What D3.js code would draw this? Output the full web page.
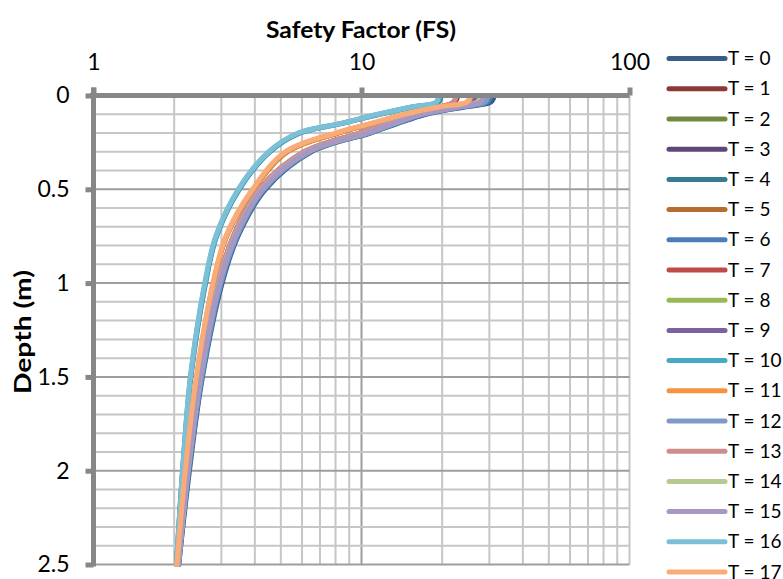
<!DOCTYPE html>
<html>
<head>
<meta charset="utf-8">
<script src="https://cdn.jsdelivr.net/npm/d3@7"></script>
<style>
  body { margin: 0; background: #fff; }
  svg { font-family: Lato, "Open Sans", sans-serif; }
</style>
</head>
<body>
<div id="chart"></div>
<script>
// profundidades (m) donde se leen los factores de seguridad
var depths = [0, 0.035, 0.06, 0.1, 0.15, 0.2, 0.3, 0.5, 0.75, 1.0, 1.5, 2.0, 2.5];

// FS por serie
var T0  = [31.3, 30.4, 24.5, 17.4, 13.6, 10.8, 6.5, 4.38, 3.46, 3.02, 2.55, 2.28, 2.08];
var T1  = [22.9, 22.3, 20.0, 15.4, 12.4, 9.9, 6.15, 4.17, 3.33, 2.92, 2.49, 2.24, 2.06];
var T2  = [27.6, 26.9, 22.5, 16.4, 12.9, 10.35, 6.28, 4.24, 3.37, 2.94, 2.5, 2.25, 2.07];
var T3  = [26.6, 25.9, 22.0, 16.2, 12.9, 10.3, 6.25, 4.24, 3.37, 2.94, 2.5, 2.25, 2.07];
var T4  = [19.8, 19.4, 15.7, 11.7, 8.4, 5.9, 4.55, 3.5, 2.88, 2.62, 2.31, 2.15, 2.04];
var T5  = [25.8, 25.2, 20.0, 14.8, 11.0, 8.2, 5.3, 3.96, 3.14, 2.8, 2.43, 2.21, 2.05];
var T6  = [30.3, 29.5, 24.0, 17.1, 13.4, 10.7, 6.45, 4.34, 3.44, 3.0, 2.54, 2.27, 2.08];
var T7  = [22.7, 22.1, 19.9, 15.3, 12.3, 9.85, 6.12, 4.16, 3.33, 2.92, 2.48, 2.24, 2.06];
var T8  = [27.3, 26.6, 22.4, 16.3, 12.9, 10.35, 6.28, 4.24, 3.37, 2.94, 2.5, 2.25, 2.07];
var T9  = [26.9, 26.2, 22.2, 16.3, 12.9, 10.35, 6.28, 4.25, 3.37, 2.94, 2.5, 2.25, 2.07];
var T10 = [19.6, 19.2, 15.6, 11.6, 8.35, 5.85, 4.52, 3.48, 2.87, 2.61, 2.3, 2.15, 2.04];
var T11 = [25.6, 25.0, 19.8, 14.6, 10.9, 8.1, 5.25, 3.94, 3.13, 2.8, 2.43, 2.2, 2.05];
var T12 = [29.7, 28.9, 23.6, 16.9, 13.3, 10.6, 6.4, 4.31, 3.42, 2.98, 2.53, 2.26, 2.07];
var T13 = [22.6, 22.0, 19.8, 15.2, 12.2, 9.8, 6.1, 4.15, 3.32, 2.91, 2.48, 2.24, 2.06];
var T14 = [27.9, 27.1, 22.6, 16.4, 12.95, 10.35, 6.28, 4.24, 3.37, 2.94, 2.5, 2.25, 2.07];
var T15 = [28.6, 27.8, 23.0, 16.5, 13.0, 10.4, 6.3, 4.26, 3.38, 2.95, 2.5, 2.25, 2.07];
var T16 = [19.4, 19.0, 15.5, 11.5, 8.3, 5.8, 4.5, 3.47, 2.86, 2.6, 2.3, 2.15, 2.04];
var T17 = [25.4, 24.8, 19.6, 14.5, 10.8, 8.0, 5.2, 3.92, 3.12, 2.79, 2.42, 2.2, 2.05];

var seriesNames = ["T = 0", "T = 1", "T = 2", "T = 3", "T = 4", "T = 5", "T = 6", "T = 7", "T = 8",
  "T = 9", "T = 10", "T = 11", "T = 12", "T = 13", "T = 14", "T = 15", "T = 16", "T = 17"];
var seriesValues = [T0, T1, T2, T3, T4, T5, T6, T7, T8, T9, T10, T11, T12, T13, T14, T15, T16, T17];
var seriesColors = ["#385D8A", "#8C3836", "#71893F", "#5C4776", "#357D91", "#B66D31",
  "#4A7EBB", "#BE4B48", "#98B954", "#7D60A0", "#46AAC5", "#F69240",
  "#7E9BC8", "#CE8D8C", "#B5CA92", "#A897C0", "#7BC0D6", "#F9AB78"];

var xTicks = [1, 10, 100];
var yTicks = [0, 0.5, 1, 1.5, 2, 2.5];

drawChart();

function drawChart() {
  var width = 783, height = 579;
  var pLeft = 93.5, pRight = 629.5, pTop = 95.5, pBottom = 564.5;

  var svg = d3.select("#chart").append("svg")
    .attr("width", width)
    .attr("height", height);

  var x = d3.scaleLog().domain([1, 100]).range([pLeft, pRight]);
  var y = d3.scaleLinear().domain([0, 2.5]).range([pTop, pBottom]);

  // rejilla
  var minorX = x.ticks().filter(d => xTicks.indexOf(d) < 0 || d == 100);
  var gridV = svg.append("g");
  gridV.selectAll("line")
    .data(minorX)
    .enter()
    .append("line")
    .attr("x1", d => x(d)).attr("x2", d => x(d))
    .attr("y1", pTop).attr("y2", pBottom)
    .attr("stroke", "#c6c6c6")
    .attr("stroke-width", 2);
  gridV.append("line")
    .attr("x1", x(10)).attr("x2", x(10))
    .attr("y1", pTop).attr("y2", pBottom)
    .attr("stroke", "#9e9e9e")
    .attr("stroke-width", 2);

  var yGrid = d3.range(1, 26).map(d => d / 10);
  svg.append("g").selectAll("line")
    .data(yGrid)
    .enter()
    .append("line")
    .attr("x1", pLeft).attr("x2", pRight)
    .attr("y1", d => y(d)).attr("y2", d => y(d))
    .attr("stroke", (d, i) => (i + 1) % 5 == 0 ? "#9e9e9e" : "#c6c6c6")
    .attr("stroke-width", 2);

  // series
  svg.append("clipPath").attr("id", "clip")
    .append("rect")
    .attr("x", pLeft).attr("y", pTop)
    .attr("width", pRight - pLeft).attr("height", pBottom - pTop + 6);

  var line = d3.line()
    .x(d => x(d[0]))
    .y(d => y(d[1]))
    .curve(d3.curveCatmullRom.alpha(0.5));

  svg.append("g")
    .attr("clip-path", "url(#clip)")
    .selectAll("path")
    .data(seriesValues)
    .enter()
    .append("path")
    .attr("d", vals => line(vals.map((v, i) => [v, depths[i]])))
    .attr("fill", "none")
    .attr("stroke", (d, i) => seriesColors[i])
    .attr("stroke-width", 5)
    .attr("stroke-linecap", "round")
    .attr("stroke-linejoin", "round");

  // ejes
  var axisColor = "#878787";
  var xAxis = d3.axisTop(x).tickValues(xTicks).tickFormat(d3.format("d")).tickSize(8).tickPadding(18);
  var gx = svg.append("g")
    .attr("transform", `translate(0,${pTop})`)
    .call(xAxis);
  gx.select(".domain").attr("stroke", axisColor).attr("stroke-width", 5)
    .attr("d", `M${pLeft - 4},0H${pRight}`);
  gx.selectAll(".tick line").attr("stroke", axisColor).attr("stroke-width", 5);
  gx.selectAll(".tick text")
    .attr("font-size", 23)
    .attr("font-family", "Lato")
    .attr("fill", "#000");

  var yAxis = d3.axisLeft(y).tickValues(yTicks).tickFormat(d => d).tickSize(8).tickPadding(16);
  var gy = svg.append("g")
    .attr("transform", `translate(${pLeft},0)`)
    .call(yAxis);
  gy.select(".domain").attr("stroke", axisColor).attr("stroke-width", 5)
    .attr("d", `M0,${pTop - 8}V${pBottom + 2}`);
  gy.selectAll(".tick line").attr("stroke", axisColor).attr("stroke-width", 5);
  gy.selectAll(".tick text")
    .attr("font-size", 23)
    .attr("font-family", "Lato")
    .attr("fill", "#000");

  // titulos
  svg.append("text")
    .attr("x", 361)
    .attr("y", 38)
    .attr("text-anchor", "middle")
    .attr("font-weight", "bold")
    .attr("font-size", 23)
    .attr("textLength", 190)
    .attr("lengthAdjust", "spacingAndGlyphs")
    .text("Safety Factor (FS)");

  svg.append("text")
    .attr("transform", "translate(31,332) rotate(-90)")
    .attr("text-anchor", "middle")
    .attr("font-weight", "bold")
    .attr("font-size", 23)
    .attr("textLength", 124)
    .attr("lengthAdjust", "spacingAndGlyphs")
    .text("Depth (m)");

  // leyenda
  var legend = svg.append("g").selectAll("g")
    .data(seriesNames)
    .enter()
    .append("g")
    .attr("transform", (d, i) => `translate(0,${58.6 + i * 30.2})`);
  legend.append("line")
    .attr("x1", 669).attr("x2", 725)
    .attr("stroke", (d, i) => seriesColors[i])
    .attr("stroke-width", 5)
    .attr("stroke-linecap", "round");
  legend.append("text")
    .attr("x", 728)
    .attr("dy", "0.35em")
    .attr("font-size", 19)
    .text(d => d);
}
</script>
</body>
</html>
